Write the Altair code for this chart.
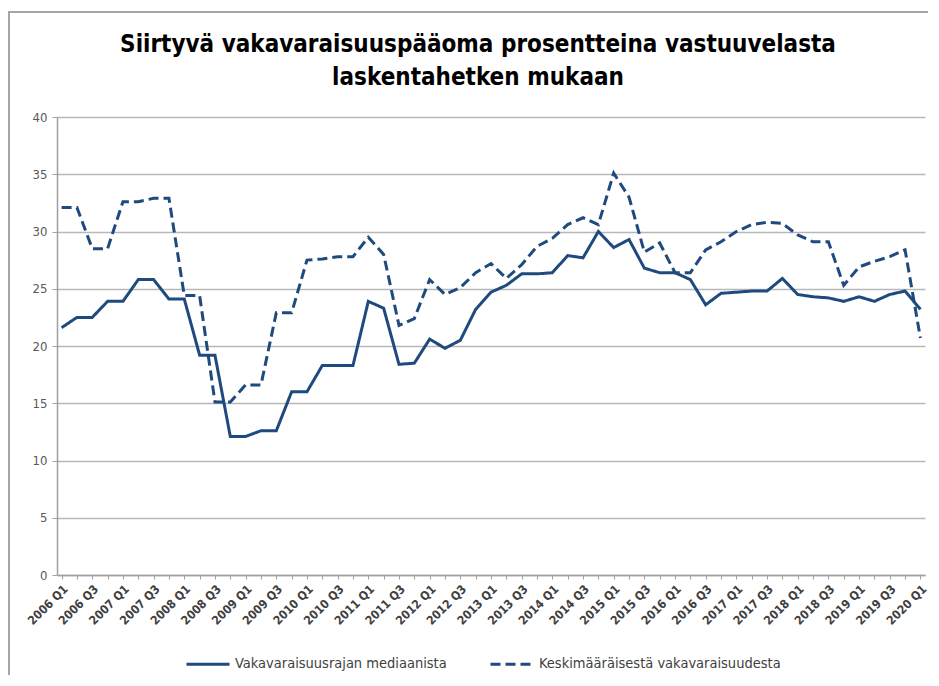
import altair as alt
import pandas as pd

quarters = [f"{y} Q{q}" for y in range(2006, 2021) for q in range(1, 5)][:57]

median_series = [21.6, 22.5, 22.5, 23.9, 23.9, 25.8, 25.8, 24.1, 24.1, 19.2,
                 19.2, 12.1, 12.1, 12.6, 12.6, 16.0, 16.0, 18.3, 18.3, 18.3,
                 23.9, 23.3, 18.4, 18.5, 20.6, 19.8, 20.5, 23.2, 24.7, 25.3,
                 26.3, 26.3, 26.4, 27.9, 27.7, 30.0, 28.6, 29.3, 26.8, 26.4,
                 26.4, 25.8, 23.6, 24.6, 24.7, 24.8, 24.8, 25.9, 24.5, 24.3,
                 24.2, 23.9, 24.3, 23.9, 24.5, 24.8, 23.2]

average_series = [32.1, 32.1, 28.5, 28.5, 32.6, 32.6, 32.9, 32.9, 24.4, 24.4,
                  15.1, 15.1, 16.6, 16.6, 22.9, 22.9, 27.5, 27.6, 27.8, 27.8,
                  29.5, 28.0, 21.8, 22.4, 25.8, 24.5, 25.1, 26.4, 27.2, 25.9,
                  27.1, 28.7, 29.4, 30.6, 31.2, 30.6, 35.1, 33.0, 28.2, 29.0,
                  26.4, 26.4, 28.4, 29.1, 30.0, 30.6, 30.8, 30.7, 29.7, 29.1,
                  29.1, 25.3, 26.9, 27.4, 27.8, 28.4, 20.7]

series_names = ["Vakavaraisuusrajan mediaanista", "Keskimääräisestä vakavaraisuudesta"]

rows = []
for i, q in enumerate(quarters):
    rows.append({"q": q, "v": median_series[i], "s": series_names[0]})
    rows.append({"q": q, "v": average_series[i], "s": series_names[1]})
df = pd.DataFrame(rows)

W, H = 868, 458
FONT = "Liberation Sans Narrow, DejaVu Sans Condensed, Open Sans, sans-serif"
color = "#1F4A7E"

legend_cfg = dict(title=None, orient="none", legendX=128, legendY=524,
                  direction="horizontal", symbolType="stroke",
                  symbolSize=1849, symbolStrokeWidth=3,
                  labelFont=FONT, labelFontSize=14.5, labelColor="#404040",
                  columnPadding=37, labelOffset=4, labelLimit=400)

lines = alt.Chart(df).mark_line(strokeWidth=3, strokeCap="butt", strokeJoin="miter").encode(
    x=alt.X("q:N", sort=quarters, title=None,
            scale=alt.Scale(type="point", padding=0.3),
            axis=alt.Axis(labelAngle=-45, labelOverlap=False,
                          labelExpr="(indexof(datum.value, 'Q1') >= 0 || indexof(datum.value, 'Q3') >= 0) ? datum.value : ''",
                          labelFont=FONT, labelFontSize=12, labelFontWeight="bold",
                          labelColor="#404040", labelPadding=4,
                          tickSize=4, tickColor="#a0a0a0", domainColor="#a0a0a0",
                          domainWidth=1.5, grid=False)),
    y=alt.Y("v:Q", title=None,
            scale=alt.Scale(domain=[0, 40], nice=False),
            axis=alt.Axis(values=list(range(0, 45, 5)), labelFont=FONT, labelFontSize=13,
                          labelColor="#595959", labelPadding=5, tickSize=5,
                          tickColor="#a0a0a0", domainColor="#a0a0a0", domainWidth=1.5,
                          gridColor="#b8b8b8", gridWidth=1.5)),
    color=alt.Color("s:N", scale=alt.Scale(domain=series_names, range=[color, color]),
                    legend=alt.Legend(**legend_cfg)),
    strokeDash=alt.StrokeDash("s:N", scale=alt.Scale(domain=series_names, range=[[1, 0], [10, 5]]),
                              legend=alt.Legend(**legend_cfg)),
)

frame = alt.Chart(pd.DataFrame({"a": [0]})).mark_rect(fill=None, stroke="#a6a6a6", strokeWidth=2).encode(
    x=alt.value(-48), x2=alt.value(W + 60), y=alt.value(-105), y2=alt.value(H + 140)
)

chart = alt.layer(frame, lines).properties(
    width=W, height=H,
    autosize=alt.AutoSizeParams(type="none"),
    padding={"left": 49, "top": 109, "right": 3, "bottom": 100},
    title=alt.TitleParams(["Siirtyvä vakavaraisuuspääoma prosentteina vastuuvelasta",
                           "laskentahetken mukaan"],
                          font=FONT, fontSize=24, fontWeight="bold", color="#000000",
                          anchor="middle", frame="group", dx=-13, offset=-79, lineHeight=33),
).configure_view(stroke=None)

chart.save("out.html", embed_options={"renderer": "svg", "actions": False})
